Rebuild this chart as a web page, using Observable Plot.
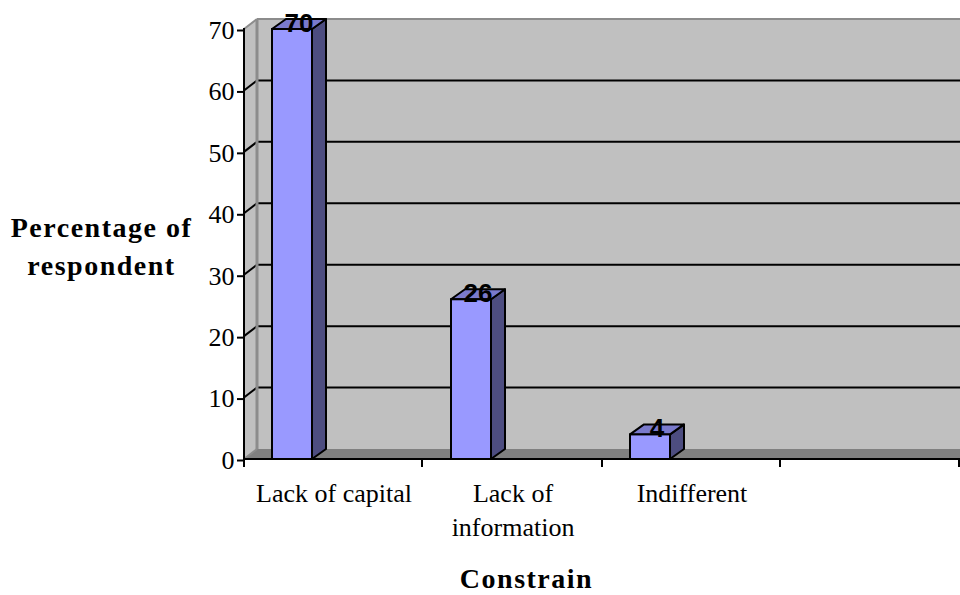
<!DOCTYPE html>
<html><head><meta charset="utf-8">
<script src="https://cdn.jsdelivr.net/npm/d3@7"></script>
<script src="https://cdn.jsdelivr.net/npm/@observablehq/plot@0.6"></script>
<style>
html,body{margin:0;padding:0;background:#fff}
.spaced{letter-spacing:1.5px}
</style></head><body><div id="chart"></div>
<script>
const categories = ["Lack of capital", "Lack of\ninformation", "Indifferent", " "];
const barCategories = ["Lack of capital", "Lack of\ninformation", "Indifferent"];
const values = [70, 26, 4];
const yTicks = [0, 10, 20, 30, 40, 50, 60, 70];
const yTitle = "Percentage of\nrespondent";
const xTitle = "Constrain";

const W = 960, H = 595, ML = 244, MT = 29, MB = 136;
const DX = 13, DY = -10, INL = 28, BW = 40;
const table = barCategories.map((c, i) => ({c, v: values[i]}));

function ns(parent, tag, attrs) {
  const e = document.createElementNS("http://www.w3.org/2000/svg", tag);
  for (const k in attrs) e.setAttribute(k, attrs[k]);
  parent.appendChild(e);
  return e;
}
const pts = a => a.map(p => p.join(",")).join(" ");

function room(index, scales, values_, dims) {
  const g = document.createElementNS("http://www.w3.org/2000/svg", "g");
  const x0 = dims.marginLeft, x1 = dims.width - dims.marginRight;
  const y0 = scales.y(0), yT = scales.y(70);
  ns(g, "polygon", {points: pts([[x0+DX,y0+DY],[x1,y0+DY],[x1,yT+DY],[x0+DX,yT+DY]]), fill: "#c0c0c0"});
  ns(g, "polygon", {points: pts([[x0,y0],[x0+DX,y0+DY],[x0+DX,yT+DY],[x0,yT]]), fill: "#c0c0c0"});
  ns(g, "polygon", {points: pts([[x0,y0],[x0+DX,y0+DY],[x1,y0+DY],[x1,y0]]), fill: "#808080"});
  for (const t of yTicks) {
    const edge = t === 0 || t === 70;
    const y = scales.y(t);
    ns(g, "line", {x1:x0, y1:y, x2:x0+DX, y2:y+DY, stroke: edge ? "#8c8c8c" : "#000", "stroke-width": 2});
    if (t !== 0) ns(g, "line", {x1:x0+DX, y1:y+DY, x2:x1, y2:y+DY, stroke: edge ? "#8c8c8c" : "#000", "stroke-width": 2});
  }
  ns(g, "line", {x1:x0+DX, y1:y0+DY, x2:x0+DX, y2:yT+DY, stroke:"#8c8c8c", "stroke-width":3});
  return g;
}

function faces(index, scales, values_, dims) {
  const g = document.createElementNS("http://www.w3.org/2000/svg", "g");
  for (const d of table) {
    const a = scales.x(d.c) + INL, b = a + BW;
    const yb = scales.y(0), y = scales.y(d.v);
    const st = {stroke:"#000", "stroke-width":2, "stroke-linejoin":"round"};
    ns(g, "polygon", {points: pts([[b,yb],[b+DX+1,yb+DY],[b+DX+1,y+DY],[b,y]]), fill:"#4d4d80", ...st});
    ns(g, "polygon", {points: pts([[a,y],[a+DX+1,y+DY],[b+DX+1,y+DY],[b,y]]), fill:"#7a7acc", ...st});
  }
  return g;
}

function frameLines(index, scales, values_, dims) {
  const g = document.createElementNS("http://www.w3.org/2000/svg", "g");
  const x0 = dims.marginLeft, x1 = dims.width - dims.marginRight;
  const y0 = scales.y(0), yT = scales.y(70);
  const step = (x1 - x0) / categories.length;
  ns(g, "line", {x1:x0, y1:y0, x2:x1, y2:y0, stroke:"#000", "stroke-width":2});
  ns(g, "line", {x1:x0, y1:y0+1, x2:x0, y2:yT-1, stroke:"#000", "stroke-width":2});
  categories.forEach((c, i) => {
    const x = x0 + i * step - (i % 2 ? 1 : 0);
    ns(g, "line", {x1:x, y1:y0, x2:x, y2:y0+8, stroke:"#000", "stroke-width":2});
  });
  ns(g, "line", {x1:x1-1, y1:y0, x2:x1-1, y2:y0+8, stroke:"#000", "stroke-width":2});
  return g;
}

const chart = Plot.plot({
  width: W, height: H,
  marginLeft: ML, marginRight: 0, marginTop: MT, marginBottom: MB,
  style: {fontFamily: "'Liberation Serif', serif", background: "#fff", color: "#000"},
  x: {type: "band", domain: categories, padding: 0, round: false, label: null},
  y: {domain: [0, 70], label: null},
  marks: [
    room,
    faces,
    Plot.barY(table, {x: "c", y: "v", fill: "#9999ff", stroke: "#000", strokeWidth: 2,
      insetLeft: INL, insetRight: 179 - INL - BW}),
    frameLines,
    Plot.axisY({ticks: yTicks, tickSize: 7, tickPadding: 3, fontSize: 26, stroke: "#000", strokeWidth: 2, fill: "#000", label: null, tickFormat: d => String(d), dy: 1}),
    Plot.axisX({tickSize: 0, tickPadding: 18, fontSize: 26, lineHeight: 1.31, fill: "#000", label: null, tickFormat: d => d, textOverflow: null}),
    Plot.text(table, {x: "c", y: "v", text: d => String(d.v), dx: -35, dy: -6, fontSize: 26, fontWeight: "bold", fontFamily: "'Liberation Sans', sans-serif", fill: "#000"}),
    Plot.text([yTitle], {frameAnchor: "left", dx: -143, dy: -1, text: d => d, textAnchor: "middle", fontSize: 28, fontWeight: "bold", lineHeight: 1.36, fill: "#000", className: "spaced"}),
    Plot.text([xTitle], {frameAnchor: "bottom", dx: -76, dy: 128, text: d => d, textAnchor: "middle", fontSize: 28, fontWeight: "bold", fill: "#000", className: "spaced"})
  ]
});
document.getElementById("chart").appendChild(chart);
</script></body></html>
